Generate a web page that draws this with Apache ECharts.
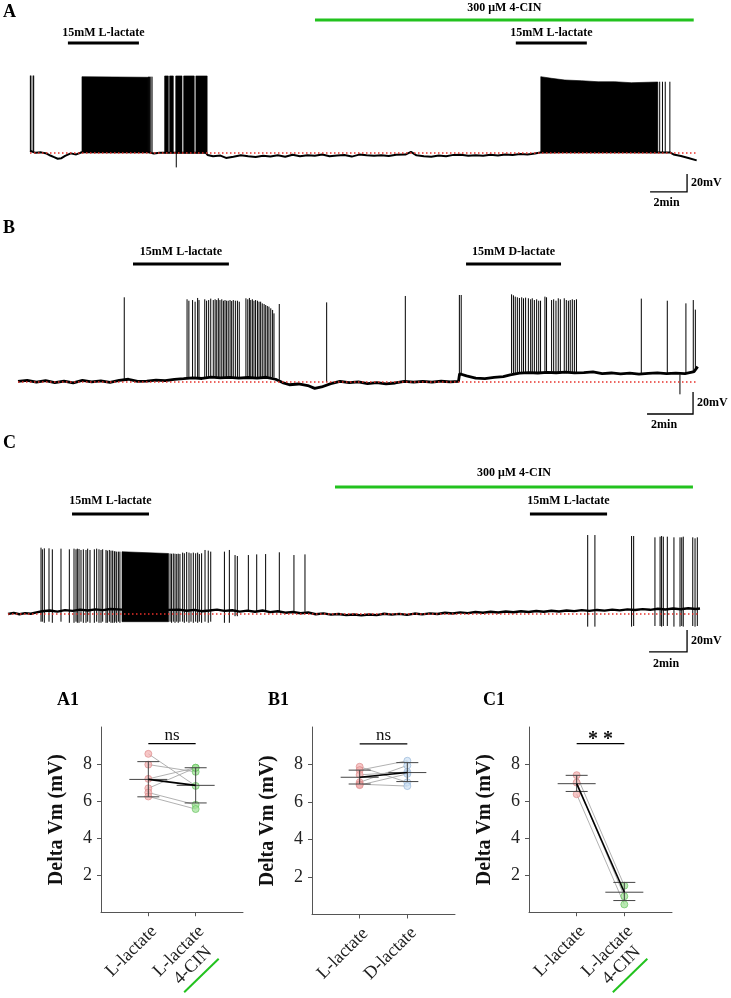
<!DOCTYPE html>
<html><head><meta charset="utf-8">
<script src="https://cdn.jsdelivr.net/npm/echarts@6/dist/echarts.min.js"></script>
<style>html,body{margin:0;padding:0;background:#fff}#c{width:731px;height:998px}</style>
</head><body><div id="c"></div>
<script>
// ---------------- DATA ----------------
const restingMv = -60;          // red dotted reference level (mV)
const scaleMin = 2;             // time scale bar (min)
const scaleMv = 20;             // voltage scale bar (mV)

// drug applications: [label, start(min), end(min)]
const drugsA = [['15mM L-lactate', 2.05, 5.89], ['300 μM 4-CIN', 15.41, 35.89], ['15mM L-lactate', 26.27, 30.11]];
const drugsB = [['15mM L-lactate', 5.0, 9.17], ['15mM D-lactate', 19.48, 23.61]];
const drugsC = [['15mM L-lactate', 3.37, 7.42], ['300 μM 4-CIN', 17.21, 36.05], ['15mM L-lactate', 27.47, 31.53]];

// membrane potential baselines: [t(min), mV]
const baselineA = [[0,-57.5],[0.3,-59.8],[0.6,-59.3],[0.9,-60.6],[1.1,-62.8],[1.3,-64.6],[1.5,-66.4],[1.7,-65.8],[1.9,-63.2],[2.0,-61.2],[2.2,-60.4],[2.5,-61.6],[2.8,-59.2],[4.0,-58.8],[6.4,-59.2],[6.7,-60.6],[7.0,-59.8],[7.2,-59.6],[8.0,-59.8],[9.5,-59.6],[9.6,-62.2],[9.9,-63.6],[10.3,-62.9],[10.6,-65.5],[11.0,-64.1],[11.4,-62.6],[11.8,-63.7],[12.2,-64.5],[12.6,-63.0],[13.0,-63.9],[13.4,-62.6],[13.8,-64.1],[14.2,-61.9],[14.6,-63.6],[15.0,-62.4],[15.4,-63.1],[15.8,-61.6],[16.2,-63.7],[16.6,-62.8],[17.0,-62.2],[17.4,-64.0],[17.8,-61.8],[18.2,-62.5],[18.6,-63.1],[19.0,-62.4],[19.4,-63.3],[19.8,-62.0],[20.3,-61.8],[20.6,-58.8],[20.9,-62.6],[21.3,-63.5],[21.7,-64.1],[22.1,-62.8],[22.5,-63.7],[22.9,-62.1],[23.3,-61.9],[23.7,-63.1],[24.1,-62.4],[24.5,-63.0],[24.9,-61.9],[25.3,-62.7],[25.7,-61.6],[26.1,-62.2],[26.5,-61.2],[26.9,-61.7],[27.3,-60.5],[27.6,-59.5],[30.0,-59.0],[34.6,-59.4],[34.8,-61.6],[35.2,-63.4],[35.6,-65.6],[36.05,-68.2]];
const baselineB = [[0,-59.5],[0.4,-58.5],[0.8,-60.2],[1.2,-58.8],[1.6,-60.5],[2.0,-59.2],[2.4,-60.8],[2.8,-58.6],[3.2,-59.8],[3.6,-58.9],[4.0,-60.3],[4.4,-58.5],[4.8,-57.5],[5.2,-59.5],[5.6,-59.2],[6.0,-58.3],[6.4,-58.8],[6.8,-57.6],[7.2,-57.0],[7.6,-56.2],[8.0,-56.8],[8.4,-55.6],[8.8,-56.3],[9.2,-55.8],[9.6,-56.5],[10.0,-55.9],[10.4,-56.4],[10.8,-55.7],[11.2,-57.5],[11.5,-60.5],[11.8,-62.5],[12.2,-61.8],[12.6,-63.2],[12.9,-65.8],[13.2,-64.5],[13.6,-61.5],[14.0,-59.5],[14.4,-60.5],[14.8,-59.8],[15.2,-61.5],[15.6,-60.5],[16.0,-61.8],[16.4,-60.9],[16.8,-59.5],[17.2,-60.2],[17.6,-59.4],[18.0,-60.1],[18.4,-59.3],[18.8,-59.8],[19.15,-59.5],[19.2,-52.5],[19.5,-54.5],[19.9,-56.5],[20.3,-57.0],[20.7,-55.8],[21.1,-55.2],[21.4,-53.5],[21.8,-52.0],[22.2,-51.5],[22.6,-51.8],[23.0,-51.2],[23.4,-51.6],[23.8,-51.0],[24.2,-51.7],[24.6,-51.4],[25.0,-50.8],[25.4,-52.3],[25.8,-51.8],[26.2,-52.6],[26.6,-52.0],[27.0,-52.8],[27.4,-52.1],[27.8,-51.7],[28.2,-52.4],[28.6,-51.9],[29.0,-52.3],[29.4,-50.5],[29.55,-46]];
const baselineC = [[0,-60],[0.3,-59.0],[0.6,-60.2],[0.9,-59.2],[1.2,-59.8],[1.5,-58.5],[1.8,-57.5],[2.2,-56.8],[2.6,-57.8],[3.0,-56.5],[3.4,-57.2],[3.8,-56.0],[4.2,-56.8],[4.6,-55.8],[5.0,-56.5],[5.4,-55.5],[6.0,-56.0],[7.0,-56.2],[8.0,-56.5],[9.0,-56.0],[9.4,-57.0],[9.8,-56.2],[10.2,-57.5],[10.6,-56.8],[11.0,-56.0],[11.4,-57.2],[11.8,-56.6],[12.2,-57.8],[12.6,-56.9],[13.0,-58.0],[13.4,-56.8],[13.8,-58.3],[14.2,-57.5],[14.6,-58.8],[15.0,-58.2],[15.4,-59.3],[15.8,-58.6],[16.2,-60.2],[16.6,-59.4],[17.0,-60.6],[17.4,-60.0],[17.8,-61.0],[18.2,-60.4],[18.6,-61.2],[19.0,-60.5],[19.4,-61.0],[19.8,-59.8],[20.2,-60.6],[20.6,-59.9],[21.0,-60.8],[21.4,-59.6],[21.8,-60.3],[22.2,-59.4],[22.6,-60.0],[23.0,-58.9],[23.4,-59.6],[23.8,-58.5],[24.2,-59.2],[24.6,-58.2],[25.0,-58.9],[25.4,-57.9],[25.8,-58.6],[26.2,-57.7],[26.6,-58.4],[27.0,-57.5],[27.4,-58.2],[27.8,-57.3],[28.2,-58.0],[28.6,-57.0],[29.0,-57.7],[29.4,-56.8],[29.8,-57.4],[30.2,-56.5],[30.6,-57.2],[31.0,-56.3],[31.4,-56.9],[31.8,-56.0],[32.2,-56.7],[32.6,-55.8],[33.0,-56.4],[33.4,-55.6],[33.8,-56.2],[34.2,-55.2],[34.6,-55.9],[35.0,-55.0],[35.4,-55.7],[35.8,-54.8],[36.2,-55.5],[36.42,-55.0]];

// single action potentials: [t(min), top mV, bottom mV]
const spikesA = [[0.02,26,-58],[0.05,26,-58],[0.17,26,-58],[0.2,26,-58],[6.41,24.8,-59],[6.46,24.8,-59],[6.53,24.8,-59],[6.6,24.8,-59],[7.91,-59,-76],[34.05,19.2,-59],[34.2,19.2,-59],[34.35,19.2,-59],[34.6,19.2,-59]];
const spikesB = [[4.62,17.0,-58],[7.35,15.2,-57],[7.43,13.9,-57],[7.59,14.5,-57],[7.70,13.0,-57],[7.81,16.4,-57],[7.87,14.5,-57],[8.12,15.2,-56],[8.20,13.9,-56],[8.29,14.5,-56],[8.38,15.8,-56],[8.49,14.5,-56],[8.57,15.2,-56],[8.64,14.5,-56],[8.71,16.1,-56],[8.78,14.5,-56],[8.86,15.2,-56],[8.93,13.9,-56],[9.00,14.5,-56],[9.07,13.9,-56],[9.14,13.9,-56],[9.22,14.5,-56],[9.29,13.6,-56],[9.36,14.5,-56],[9.45,13.9,-56],[9.54,13.9,-56],[9.62,13.0,-56],[9.91,16.1,-56],[9.99,15.2,-56],[10.06,16.4,-56],[10.12,14.5,-56],[10.19,15.2,-56],[10.26,13.9,-56],[10.33,14.5,-56],[10.41,13.9,-56],[10.48,13.0,-56],[10.55,13.0,-56],[10.62,11.5,-56],[10.70,10.9,-56],[10.77,10.0,-56],[10.84,9.1,-56],[10.91,8.5,-56],[10.99,7.0,-56],[11.07,5.5,-56],[11.13,2.4,-56],[11.36,10.9,-58],[13.42,12.4,-60],[16.84,18.2,-60],[19.19,19.1,-53],[19.27,19.1,-53],[21.46,19.7,-52],[21.54,18.8,-52],[21.62,17.6,-52],[21.71,17.0,-52],[21.80,16.4,-52],[21.90,17.0,-52],[21.98,16.1,-52],[22.07,16.7,-52],[22.19,16.1,-52],[22.29,15.2,-52],[22.36,16.1,-52],[22.45,14.5,-52],[22.55,15.2,-52],[22.64,13.9,-52],[22.72,13.9,-52],[22.91,17.6,-52],[22.98,17.0,-52],[23.20,14.5,-52],[23.29,15.2,-52],[23.39,13.9,-52],[23.49,16.1,-52],[23.58,15.2,-52],[23.75,16.1,-52],[23.84,14.5,-52],[23.93,13.9,-52],[24.01,14.5,-52],[24.10,15.2,-52],[24.19,14.5,-52],[24.28,15.2,-52],[27.10,15.8,-52],[28.23,13.9,-52],[28.78,-53,-71.2],[29.04,11.5,-52],[29.36,14.5,-51],[29.45,5.8,-50]];
const spikesC = [[1.737,0.3,-67],[1.807,-1.2,-67],[1.912,-0.3,-68],[2.158,-0.3,-67],[2.333,-1.2,-68],[2.789,-0.6,-67],[3.228,-1.2,-68],[3.474,-0.6,-68],[3.579,-1.2,-67],[3.649,-0.6,-68],[3.737,-0.9,-68],[3.842,-1.8,-67],[3.965,-1.2,-68],[4.105,-1.8,-68],[4.193,-0.6,-67],[4.316,-1.8,-68],[4.544,-1.2,-68],[4.667,-0.6,-67],[4.789,-1.2,-68],[4.895,-1.8,-68],[4.982,-1.2,-67],[5.158,-1.8,-68],[5.228,-2.4,-68],[5.333,-1.8,-67],[5.421,-2.4,-68],[5.509,-2.4,-68],[5.596,-3.0,-68],[5.63,-3.0,-67],[5.72,-3.3,-68],[5.81,-3.3,-67],[5.89,-3.3,-68],[8.53,-5.0,-67],[8.61,-5.2,-68],[8.70,-5.0,-67],[8.79,-5.2,-68],[8.88,-5.4,-67],[8.96,-5.2,-68],[9.05,-5.4,-67],[9.193,-4.2,-67],[9.281,-4.8,-68],[9.404,-3.6,-67],[9.526,-4.2,-68],[9.632,-4.8,-67],[9.754,-4.2,-68],[9.877,-4.8,-67],[9.982,-4.2,-68],[10.07,-5.5,-67],[10.19,-4.8,-68],[10.37,-1.8,-67],[10.54,-2.4,-68],[10.67,-3.3,-67],[11.39,-3.3,-68],[11.65,-1.8,-68],[11.95,-6.4,-62],[12.07,-7.3,-62],[12.65,-6.4,-58],[13.09,-5.8,-58],[13.56,-5.5,-58],[14.28,-3.9,-58],[15.05,-6.4,-58],[15.63,-5.8,-58],[30.51,11.8,-71.5],[30.89,11.8,-71.5],[32.82,10.9,-71.5],[32.93,10.9,-70.9],[34.05,9.7,-70.9],[34.32,10.3,-70.9],[34.40,10.9,-71.5],[34.49,10.3,-70.9],[34.70,10.3,-70.9],[35.05,9.7,-71.5],[35.37,9.7,-71.5],[35.46,9.7,-70.9],[35.54,10.3,-71.5],[36.04,9.7,-70.9],[36.16,8.8,-71.5],[36.28,9.7,-70.9]];

// dense firing (unresolved spikes): [bottom mV, [t, top mV], [t, top mV], ...] (top envelope)
const burstsA = [
  [-59.5, [2.81, 24.8], [6.38, 24.1]],
  [-60, [7.28, 25.6], [7.48, 25.6]], [-60, [7.55, 25.6], [7.75, 25.6]], [-60, [7.88, 25.6], [8.22, 25.6]],
  [-60, [8.31, 25.6], [8.88, 25.6]], [-60, [8.97, 25.6], [9.58, 25.6]],
  [-59.5, [27.62, 24.8], [28.2, 23.0], [28.92, 21.1], [29.82, 20.3], [30.72, 19.2], [31.62, 19.2], [32.52, 18.1], [33.42, 18.6], [33.95, 18.9]]
];
const burstsB = [];
const burstsC = [[-67, [6.0, -3.4], [8.45, -5.0]]];

// paired summary data (Delta Vm, mV)
const catsA1 = ['L-lactate', 'L-lactate\n4-CIN'];
const catsB1 = ['L-lactate', 'D-lactate'];
const catsC1 = ['L-lactate', 'L-lactate\n4-CIN'];
const a1Left = [8.55, 7.97, 7.2, 6.69, 6.46, 6.25];
const a1Right = [6.82, 7.58, 7.8, 7.8, 5.8, 5.57];
const a1Stats = [[7.17, 6.23, 8.13], [6.85, 5.9, 7.8]];   // mean, low, high
const b1Left = [7.88, 7.7, 7.45, 7.05, 6.95, 6.9];
const b1Right = [7.05, 8.2, 7.6, 7.95, 6.85, 7.5];
const b1Stats = [[7.32, 6.96, 7.7], [7.57, 7.09, 8.1]];
const c1Left = [7.4, 7.0, 6.37];
const c1Right = [1.43, 0.86, 0.42];
const c1Stats = [[6.94, 6.52, 7.39], [1.08, 0.63, 1.61]];
const sigA1 = 'ns', sigB1 = 'ns', sigC1 = '* *';
const yTicks = [2, 4, 6, 8];

// ---------------- RENDERING ----------------
const SERIF = '"Liberation Serif","Times New Roman",serif';
const GREEN = '#22c21e';

function spikeRender(list) {
  return function (p, api) {
    const d = list[p.dataIndex];
    const a = api.coord([d[0], d[1]]), b = api.coord([d[0], d[2]]);
    return { type: 'line', shape: { x1: a[0], y1: a[1], x2: b[0], y2: b[1] }, style: { stroke: '#000', lineWidth: 1 } };
  };
}
function burstRender(list) {
  return function (p, api) {
    const d = list[p.dataIndex];
    const bottom = d[0], tops = d.slice(1);
    const pts = [api.coord([tops[0][0], bottom])].concat(tops.map(q => api.coord(q))).concat([api.coord([tops[tops.length - 1][0], bottom])]);
    return { type: 'polygon', shape: { points: pts }, style: { fill: '#000', stroke: '#000', lineWidth: 0.6 } };
  };
}
function drugRender(list, cfg) {
  return function (p, api) {
    const d = list[p.dataIndex];
    const cin = d[0].indexOf('4-CIN') >= 0;
    const base = api.coord([0, restingMv])[1];
    const x0 = api.coord([d[1], restingMv])[0], x1 = api.coord([d[2], restingMv])[0];
    const by = base + (cin ? cfg.greenBar : cfg.blackBar);
    const ty = by + (cin ? cfg.greenText : cfg.blackText);
    return { type: 'group', children: [
      { type: 'rect', shape: { x: x0, y: by - 1.5, width: x1 - x0, height: 3 }, style: { fill: cin ? GREEN : '#000' } },
      { type: 'text', style: { x: (x0 + x1) / 2, y: ty, text: d[0], fill: '#000', font: 'bold 12px ' + SERIF, align: 'center', verticalAlign: 'middle' } }
    ] };
  };
}
function scaleRender(cfg) {
  return function (p, api) {
    const c = api.coord([cfg.t, cfg.v]);
    const l = api.coord([cfg.t - scaleMin, cfg.v]);
    const t = api.coord([cfg.t, cfg.v + scaleMv]);
    return { type: 'group', children: [
      { type: 'polyline', shape: { points: [[l[0], c[1]], [c[0], c[1]], [c[0], t[1]]] }, style: { stroke: '#000', lineWidth: 1.3, fill: null } },
      { type: 'text', style: { x: c[0] + 4, y: (c[1] + t[1]) / 2, text: scaleMv + 'mV', fill: '#000', font: 'bold 12px ' + SERIF, align: 'left', verticalAlign: 'middle' } },
      { type: 'text', style: { x: (l[0] + c[0]) / 2 + cfg.dx, y: c[1] + cfg.dy, text: scaleMin + 'min', fill: '#000', font: 'bold 12px ' + SERIF, align: 'center', verticalAlign: 'middle' } }
    ] };
  };
}
function traceSeries(i, base, spikes, bursts, drugs, cfg) {
  const ax = { xAxisIndex: i, yAxisIndex: i, animation: false, silent: true };
  const tEnd = base[base.length - 1][0];
  return [
    Object.assign({ type: 'line', data: base, symbol: 'none', lineStyle: { color: '#000', width: cfg.lw }, z: 2 }, ax),
    Object.assign({ type: 'custom', data: bursts.map(d => [d[1][0], d[1][1]]), renderItem: burstRender(bursts), clip: false, z: 3 }, ax),
    Object.assign({ type: 'custom', data: spikes.map(d => [d[0], d[1]]), renderItem: spikeRender(spikes), clip: false, z: 3 }, ax),
    Object.assign({ type: 'line', data: [[0, restingMv], [tEnd, restingMv]], symbol: 'none', lineStyle: { color: '#e8302a', width: 1.5, type: [1.5, 2.5] }, z: 6 }, ax),
    Object.assign({ type: 'custom', data: drugs.map(d => [d[1], d[2]]), renderItem: drugRender(drugs, cfg), clip: false, z: 4 }, ax),
    Object.assign({ type: 'custom', data: [[0, 0]], renderItem: scaleRender(cfg.scale), clip: false, z: 4 }, ax)
  ];
}
const pink = { color: 'rgba(244,178,178,0.9)', borderColor: '#d98585', borderWidth: 0.8 };
const green = { color: 'rgba(160,226,150,0.9)', borderColor: '#5fbf58', borderWidth: 0.8 };
const blue = { color: 'rgba(205,224,244,0.9)', borderColor: '#8fb0d4', borderWidth: 0.8 };
function pairSeries(i, L, R, stats, sig, colL, colR) {
  const ax = { xAxisIndex: i, yAxisIndex: i, animation: false, silent: true };
  const sigBold = sig.indexOf('*') >= 0;
  return [
    Object.assign({ type: 'custom', data: L.map((v, k) => [1, v, R[k]]), encode: { x: 0, y: [1, 2] }, clip: false, z: 2,
      renderItem: (p, api) => { const a = api.coord([1, api.value(1)]), b = api.coord([2, api.value(2)]);
        return { type: 'line', shape: { x1: a[0], y1: a[1], x2: b[0], y2: b[1] }, style: { stroke: '#a8a8a8', lineWidth: 0.9 } }; } }, ax),
    Object.assign({ type: 'scatter', data: L.map(v => [1, v]), symbolSize: 7, itemStyle: colL, z: 3 }, ax),
    Object.assign({ type: 'scatter', data: R.map(v => [2, v]), symbolSize: 7, itemStyle: colR, z: 3 }, ax),
    Object.assign({ type: 'custom', data: stats.map((s, k) => [k + 1, s[0], s[1], s[2]]), encode: { x: 0, y: [1, 2, 3] }, clip: false, z: 4,
      renderItem: (p, api) => { const x = api.value(0); const m = api.coord([x, api.value(1)]), lo = api.coord([x, api.value(2)]), hi = api.coord([x, api.value(3)]);
        const st = { stroke: '#444', lineWidth: 1 };
        return { type: 'group', children: [
          { type: 'line', shape: { x1: m[0] - 19, y1: m[1], x2: m[0] + 19, y2: m[1] }, style: st },
          { type: 'line', shape: { x1: lo[0] - 11, y1: lo[1], x2: lo[0] + 11, y2: lo[1] }, style: st },
          { type: 'line', shape: { x1: hi[0] - 11, y1: hi[1], x2: hi[0] + 11, y2: hi[1] }, style: st },
          { type: 'line', shape: { x1: lo[0], y1: lo[1], x2: hi[0], y2: hi[1] }, style: st }
        ] }; } }, ax),
    Object.assign({ type: 'custom', data: [[1, stats[0][0], stats[1][0]]], encode: { x: 0, y: [1, 2] }, clip: false, z: 5,
      renderItem: (p, api) => { const a = api.coord([1, api.value(1)]), b = api.coord([2, api.value(2)]);
        return { type: 'line', shape: { x1: a[0], y1: a[1], x2: b[0], y2: b[1] }, style: { stroke: '#000', lineWidth: 1.6 } }; } }, ax),
    Object.assign({ type: 'custom', data: [[1, 9.1]], clip: false, z: 5,
      renderItem: (p, api) => { const a = api.coord([1, 9.1]), b = api.coord([2, 9.1]);
        return { type: 'group', children: [
          { type: 'line', shape: { x1: a[0], y1: a[1], x2: b[0], y2: b[1] }, style: { stroke: '#000', lineWidth: 1.2 } },
          { type: 'text', style: { x: (a[0] + b[0]) / 2, y: a[1] - (sigBold ? 4 : 8), text: sig, fill: '#111', font: (sigBold ? 'bold 20px ' : '17px ') + SERIF, align: 'center', verticalAlign: 'middle' } }
        ] }; } }, ax)
  ];
}
function catAxis(i, cats) {
  return { gridIndex: i, type: 'category', data: [''].concat(cats).concat(['']), boundaryGap: false,
    axisLine: { lineStyle: { color: '#555', width: 1 } },
    axisTick: { show: true, length: 4, interval: (k) => k === 1 || k === 2, lineStyle: { color: '#555' } },
    axisLabel: { interval: 0, rotate: 45, margin: 8, verticalAlign: 'top', align: 'right', color: '#222',
      formatter: v => v ? v.split('\n').map(s => '{a|' + s + '}').join('\n') : '',
      rich: { a: { width: 68, align: 'center', fontSize: 18, fontFamily: SERIF, color: '#222', lineHeight: 20 } } },
    splitLine: { show: false } };
}
function valAxis(i) {
  return { gridIndex: i, type: 'value', min: 0, max: 10, interval: 2,
    axisLine: { show: true, lineStyle: { color: '#555', width: 1 } },
    axisTick: { show: true, length: 4, customValues: yTicks, lineStyle: { color: '#555' } },
    axisLabel: { color: '#222', fontSize: 18, fontFamily: SERIF, margin: 9, customValues: yTicks,
      formatter: v => yTicks.indexOf(v) >= 0 ? String(v) : '' },
    splitLine: { show: false },
    name: 'Delta Vm (mV)', nameLocation: 'middle', nameGap: 34, nameRotate: 90,
    nameTextStyle: { fontFamily: SERIF, fontWeight: 'bold', fontSize: 20, color: '#111' } };
}
const hid = (i, min, max) => ({ gridIndex: i, type: 'value', min: min, max: max, show: false, splitLine: { show: false } });

const option = {
  backgroundColor: '#fff',
  animation: false,
  grid: [
    { left: 30, top: 9, width: 675, height: 198 },
    { left: 18, top: 217, width: 690, height: 209 },
    { left: 8, top: 449, width: 703, height: 209 },
    { left: 101, top: 727, width: 142, height: 187.5 },
    { left: 312, top: 727, width: 143, height: 187.5 },
    { left: 529, top: 727, width: 143, height: 187.5 }
  ],
  xAxis: [hid(0, 0, 36.5), hid(1, 0, 30), hid(2, 0, 37), catAxis(3, catsA1), catAxis(4, catsB1), catAxis(5, catsC1)],
  yAxis: [hid(0, -120, 100), hid(1, -100, 90), hid(2, -100, 90), valAxis(3), valAxis(4), valAxis(5)],
  series: [].concat(
    traceSeries(0, baselineA, spikesA, burstsA, drugsA, { lw: 2, blackBar: -110, blackText: -10, greenBar: -133, greenText: -12, scale: { t: 35.53, v: -103.3, dx: -2, dy: 11 } }),
    traceSeries(1, baselineB, spikesB, burstsB, drugsB, { lw: 2.8, blackBar: -118, blackText: -12, greenBar: -140, greenText: -12, scale: { t: 29.35, v: -89.1, dx: -6, dy: 11 } }),
    traceSeries(2, baselineC, spikesC, burstsC, drugsC, { lw: 2.4, blackBar: -100, blackText: -13, greenBar: -127, greenText: -14, scale: { t: 35.74, v: -94.5, dx: -2, dy: 12 } }),
    pairSeries(3, a1Left, a1Right, a1Stats, sigA1, pink, green),
    pairSeries(4, b1Left, b1Right, b1Stats, sigB1, pink, blue),
    pairSeries(5, c1Left, c1Right, c1Stats, sigC1, pink, green)
  )
};
const chart = echarts.init(document.getElementById('c'), null, { renderer: 'canvas', width: 731, height: 998 });
chart.setOption(option);

const letters = [['A', 3, 3], ['B', 3, 219], ['C', 3, 434], ['A1', 57, 691], ['B1', 268, 691], ['C1', 483, 691]];
const graphics = letters.map(l => ({ type: 'text', left: l[1], top: l[2], style: { text: l[0], font: 'bold 18px ' + SERIF, fill: '#000' } }));
[3, 5].forEach(gi => {
  const p = chart.convertToPixel({ xAxisIndex: gi, yAxisIndex: gi }, [2, 0]);
  graphics.push({ type: 'line', shape: { x1: p[0] - 11.5, y1: p[1] + 80, x2: p[0] + 23, y2: p[1] + 46.5 }, style: { stroke: GREEN, lineWidth: 2 } });
});
chart.setOption({ graphic: graphics });
</script></body></html>
